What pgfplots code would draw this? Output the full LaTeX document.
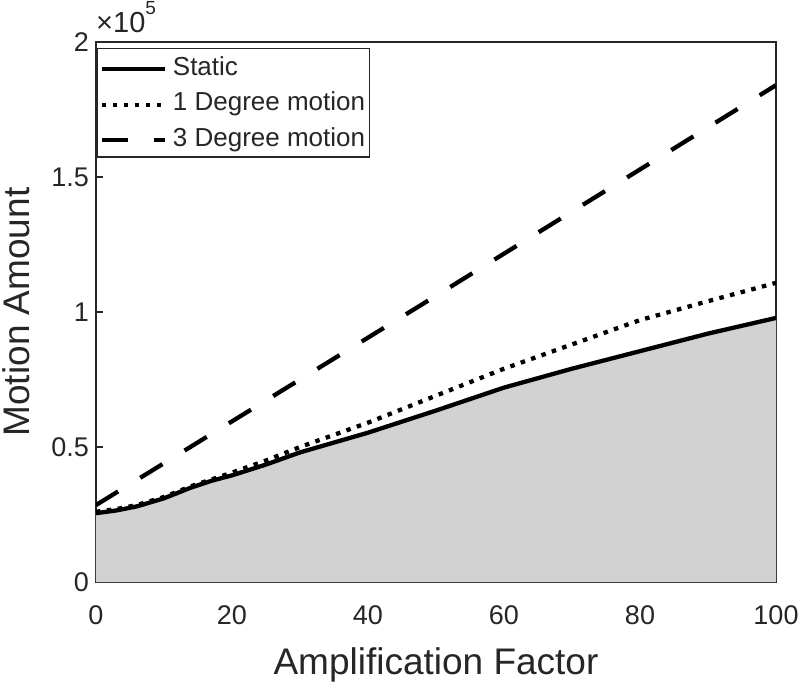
\documentclass[border=0pt]{standalone}
\usepackage{pgfplots}
\usepackage{pgfplotstable}
\pgfplotsset{compat=1.18}
\usepackage{fontspec}
\setmainfont{Liberation Sans}
\definecolor{txt}{RGB}{38,38,38}
\definecolor{fillgray}{RGB}{210,210,210}

\pgfplotstableread{
x y
0 25500
3 26500
6 28000
10 31000
14 35000
17 37500
20 39500
25 43500
30 48000
40 55300
50 63500
60 72000
70 79000
80 85500
90 92000
100 97800
}\staticdata

\pgfplotstableread{
x y
0 26000
3 27000
6 28500
10 31500
14 35500
17 38000
20 40500
25 45000
30 50000
40 59000
50 69000
60 79000
70 88000
80 97000
90 104000
100 110800
}\onedeg

\pgfplotstableread{
x y
0 28500
50 106000
100 184000
}\threedeg

\begin{document}
\begin{tikzpicture}
\begin{axis}[
  scale only axis, width=680pt, height=540pt,
  xmin=0, xmax=100, ymin=0, ymax=200000,
  xtick={0,20,40,60,80,100},
  ytick={0,50000,100000,150000,200000},
  scaled y ticks=base 10:-5,
  ytick scale label code/.code={{\fontsize{29}{29}\selectfont ×10}\raisebox{18pt}{\fontsize{19}{19}\selectfont 5}},
  every y tick scale label/.style={at={(axis description cs:0,1)}, anchor=base west, inner sep=0pt, yshift=9pt, xshift=7pt, text=txt},
  tick align=inside, xtick pos=bottom, ytick pos=left,
  major tick length=7pt,
  /pgf/number format/assume math mode=true,
  ticklabel style={font=\fontsize{27}{27}\selectfont, text=txt, inner sep=0pt},
  xticklabel style={anchor=north, yshift=-23pt},
  yticklabel style={anchor=east, xshift=-7pt},
  axis line style={line width=1.2pt, draw=txt},
  every tick/.style={draw=txt, line width=1.2pt},
  xlabel={Amplification Factor},
  ylabel={Motion Amount},
  every axis x label/.style={at={(axis description cs:0.5,-0.1722)}, anchor=base, font=\fontsize{37}{37}\selectfont, text=txt, inner sep=0pt},
  every axis y label/.style={at={(axis description cs:-0.0985,0.5)}, anchor=base, rotate=90, font=\fontsize{37}{37}\selectfont, text=txt, inner sep=0pt},
  legend style={at={(axis description cs:0.0015,0.989)}, anchor=north west,
    draw=txt, line width=1.2pt, fill=white,
    font=\fontsize{26}{26}\selectfont, text=txt,
    inner xsep=2pt, inner ysep=4pt, row sep=6pt, column sep=4pt,
    nodes={inner sep=2pt, text height=20.5pt, text depth=5pt},
    cells={anchor=west}},
  legend image code/.code={\draw[#1] (0pt,-2pt) -- (63pt,-2pt);},
]
\addplot[draw=none, fill=fillgray, forget plot] table {\staticdata} \closedcycle;
\addplot[black, line width=4.3pt, solid] table {\staticdata};
\addlegendentry{Static}
\addplot[black, line width=4.3pt, dash pattern=on 4.5pt off 6.5pt] table {\onedeg};
\addlegendentry{1 Degree motion}
\addplot[black, line width=4.3pt, dash pattern=on 26pt off 26pt] table {\threedeg};
\addlegendentry{3 Degree motion}
\end{axis}
\path ([shift={(-96pt,-104pt)}]current axis.south west) rectangle ([shift={(24pt,42pt)}]current axis.north east);
\end{tikzpicture}
\end{document}
